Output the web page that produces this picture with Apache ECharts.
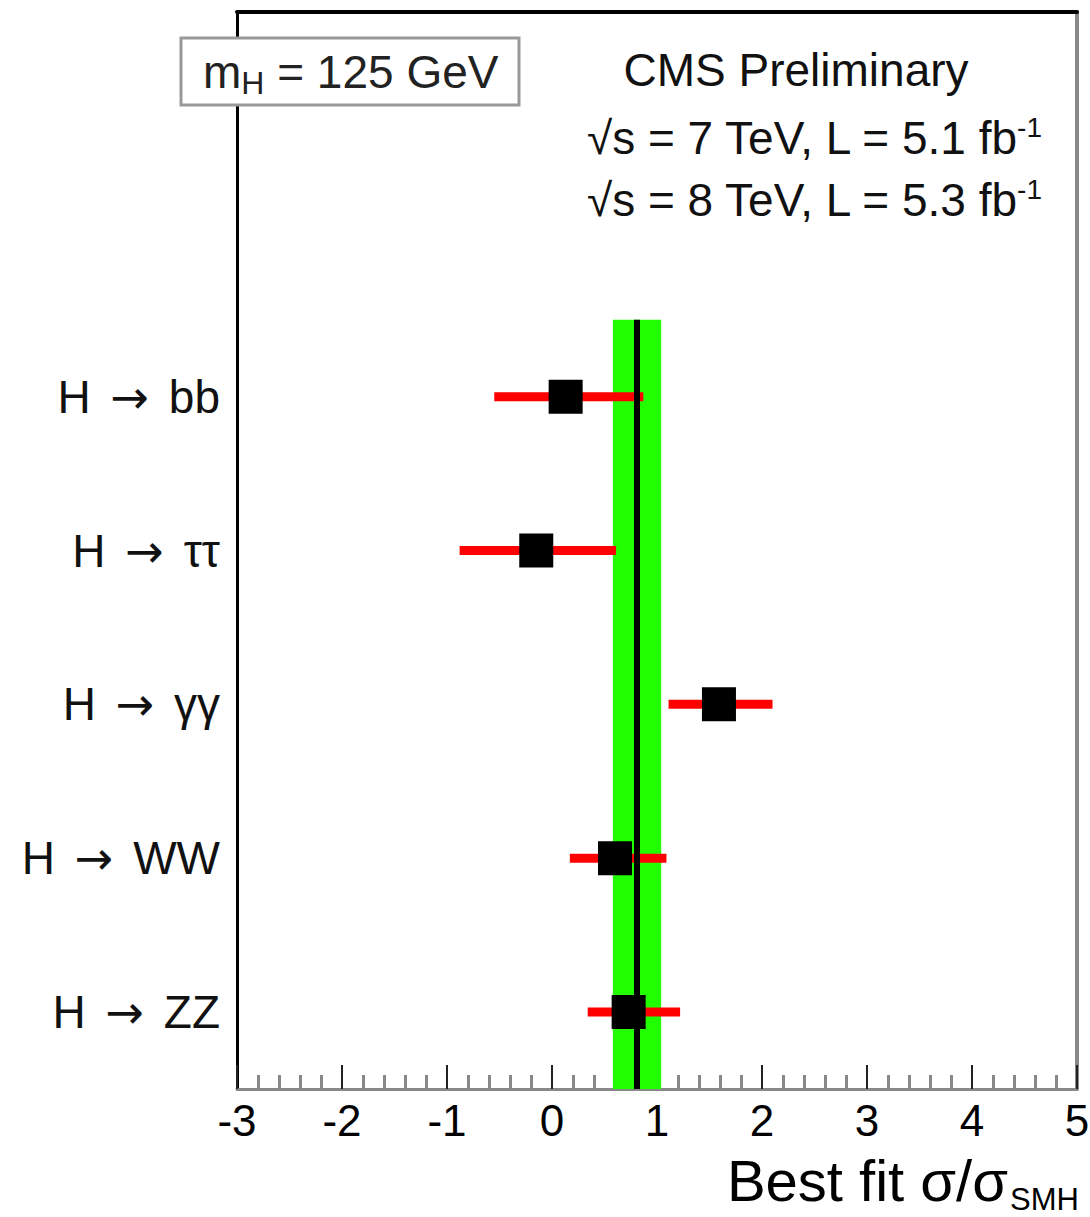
<!DOCTYPE html>
<html>
<head>
<meta charset="utf-8">
<script src="https://cdn.jsdelivr.net/npm/echarts@6/dist/echarts.min.js"></script>
<style>
  html, body { margin: 0; padding: 0; background: #fff; }
  #chart { width: 1090px; height: 1217px; }
</style>
</head>
<body>
<div id="chart"></div>
<script>
// channels, top to bottom
var channels = ['bb', 'ττ', 'γγ', 'WW', 'ZZ'];
var rowPos = [4.5, 3.5, 2.5, 1.5, 0.5];
var bestFit = [0.13, -0.15, 1.59, 0.60, 0.73];
var errLow = [-0.55, -0.88, 1.11, 0.17, 0.34];
var errHigh = [0.87, 0.61, 2.10, 1.09, 1.22];

// combined result
var combined = 0.81;
var combinedLow = 0.58;
var combinedHigh = 1.04;

var xTicks = [-3, -2, -1, 0, 1, 2, 3, 4, 5];

var font = 'Liberation Sans, Arial, Helvetica, sans-serif';

var chart = echarts.init(document.getElementById('chart'), null, { renderer: 'svg' });

var barRows = [];
var points = [];
for (var i = 0; i < channels.length; i++) {
    barRows.push([rowPos[i], errLow[i], errHigh[i]]);
    points.push([bestFit[i], rowPos[i]]);
}

var option = {
    animation: false,
    backgroundColor: '#fff',
    grid: { left: 237, right: 13, top: 12, bottom: 128, outerBoundsMode: 'none', containLabel: false },
    xAxis: [{
        type: 'value',
        min: xTicks[0],
        max: xTicks[xTicks.length - 1],
        interval: 1,
        axisLine: { show: true, onZero: false, lineStyle: { color: '#888', width: 3 } },
        axisTick: { show: true, inside: true, length: 24, lineStyle: { color: '#222', width: 2 } },
        minorTick: { show: true, splitNumber: 5, length: 14, lineStyle: { color: '#888', width: 3 } },
        splitLine: { show: false },
        axisLabel: {
            margin: 13,
            fontFamily: font,
            fontSize: 44,
            lineHeight: 36,
            color: '#000',
            showMinLabel: true,
            showMaxLabel: true
        }
    }, {
        type: 'value',
        position: 'top',
        min: -3,
        max: 5,
        axisLine: { show: true, onZero: false, lineStyle: { color: '#000', width: 4 } },
        axisTick: { show: false },
        axisLabel: { show: false },
        splitLine: { show: false }
    }],
    yAxis: [{
        type: 'value',
        min: 0,
        max: 7,
        interval: 0.5,
        axisLine: { show: true, onZero: false, lineStyle: { color: '#000', width: 3 } },
        axisTick: { show: false },
        splitLine: { show: false },
        axisLabel: {
            margin: 17,
            color: '#000',
            formatter: function (v) {
                var k = rowPos.indexOf(v);
                return k >= 0 ? '{h|H }{a|→}{h| ' + channels[k] + '}' : '';
            },
            rich: {
                h: { fontFamily: font, fontSize: 46, color: '#111' },
                a: { fontFamily: 'DejaVu Sans', fontSize: 46, color: '#111', padding: [0, 7, 0, 7] }
            }
        }
    }, {
        type: 'value',
        position: 'right',
        min: 0,
        max: 7,
        axisLine: { show: true, onZero: false, lineStyle: { color: '#888', width: 4 } },
        axisTick: { show: false },
        axisLabel: { show: false },
        splitLine: { show: false }
    }],
    series: [{
        // green band + black line for the combined fit
        type: 'line',
        data: [],
        z: 1,
        markArea: {
            silent: true,
            itemStyle: { color: '#22ff00', opacity: 1 },
            data: [[{ xAxis: combinedLow, yAxis: 0 }, { xAxis: combinedHigh, yAxis: 5 }]]
        },
        markLine: {
            silent: true,
            symbol: 'none',
            label: { show: false },
            lineStyle: { color: '#000', width: 6, type: 'solid' },
            data: [[{ coord: [combined, 0] }, { coord: [combined, 5] }]]
        }
    }, {
        type: 'custom',
        z: 3,
        data: barRows,
        encode: { x: [1, 2], y: 0 },
        renderItem: function (params, api) {
            var y = api.value(0);
            var a = api.coord([api.value(1), y]);
            var b = api.coord([api.value(2), y]);
            return {
                type: 'line',
                shape: { x1: a[0], y1: a[1], x2: b[0], y2: b[1] },
                style: { stroke: '#ff0000', lineWidth: 9 }
            };
        }
    }, {
        type: 'scatter',
        z: 4,
        symbol: 'rect',
        symbolSize: 34,
        itemStyle: { color: '#000', opacity: 1 },
        data: points
    }],
    graphic: [{
        type: 'rect',
        shape: { x: 181, y: 38, width: 338, height: 67 },
        style: { fill: '#fff', stroke: '#999', lineWidth: 3 },
        z: 10
    }, {
        type: 'text',
        x: 203,
        y: 72,
        z: 11,
        style: {
            text: '{m|m}{s|H}{m| = 125 GeV}',
            textVerticalAlign: 'middle',
            rich: {
                m: { fontFamily: font, fontSize: 46, fill: '#222', lineHeight: 56 },
                s: { fontFamily: font, fontSize: 32, fill: '#222', lineHeight: 56, padding: [22, 0, 0, 0] }
            }
        }
    }, {
        type: 'text',
        x: 796,
        y: 70,
        z: 11,
        style: {
            text: 'CMS Preliminary',
            fontFamily: font,
            fontSize: 46,
            fill: '#111',
            textAlign: 'center',
            textVerticalAlign: 'middle'
        }
    }, {
        type: 'text',
        x: 1042,
        y: 138,
        z: 11,
        style: {
            text: '{m|√s = 7 TeV, L = 5.1 fb}{p|-1}',
            textAlign: 'right',
            textVerticalAlign: 'middle',
            rich: {
                m: { fontFamily: font, fontSize: 46, fill: '#111', lineHeight: 56 },
                p: { fontFamily: font, fontSize: 28, fill: '#111', lineHeight: 56, padding: [0, 0, 22, 0] }
            }
        }
    }, {
        type: 'text',
        x: 1042,
        y: 200,
        z: 11,
        style: {
            text: '{m|√s = 8 TeV, L = 5.3 fb}{p|-1}',
            textAlign: 'right',
            textVerticalAlign: 'middle',
            rich: {
                m: { fontFamily: font, fontSize: 46, fill: '#111', lineHeight: 56 },
                p: { fontFamily: font, fontSize: 28, fill: '#111', lineHeight: 56, padding: [0, 0, 22, 0] }
            }
        }
    }, {
        // x axis title, main part
        type: 'text',
        x: 1008,
        y: 1180,
        z: 11,
        style: {
            text: 'Best fit σ/σ',
            fontFamily: font,
            fontSize: 58,
            lineHeight: 46,
            fill: '#000',
            textAlign: 'right',
            textVerticalAlign: 'middle'
        }
    }, {
        // x axis title, subscript
        type: 'text',
        x: 1010,
        y: 1199,
        z: 11,
        style: {
            text: 'SMH',
            fontFamily: font,
            fontSize: 31,
            lineHeight: 26,
            fill: '#000',
            textAlign: 'left',
            textVerticalAlign: 'middle'
        }
    }]
};

chart.setOption(option);
</script>
</body>
</html>
